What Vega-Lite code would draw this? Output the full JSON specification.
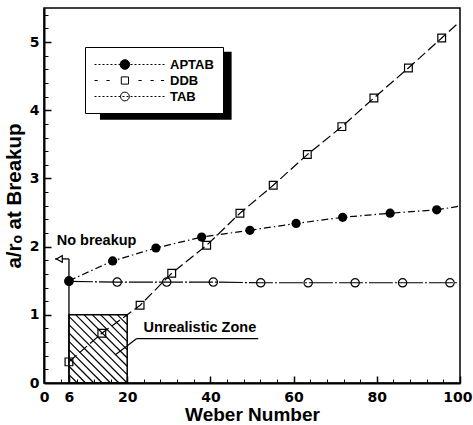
{
 "$schema": "https://vega.github.io/schema/vega-lite/v6.json",
 "width": 416, "height": 375,
 "autosize": "none",
 "padding": {"left": 44, "top": 8, "right": 13, "bottom": 42},
 "background": "white",
 "config": {"view": {"stroke": "black", "strokeWidth": 1.5}, "axis": {"grid": false}},
 "datasets": {
  "curves": [
   {"series": "TAB", "kind": "marker", "x": 6, "y": 1.49},
   {"series": "TAB", "kind": "marker", "x": 17.6, "y": 1.48},
   {"series": "TAB", "kind": "marker", "x": 29.5, "y": 1.48},
   {"series": "TAB", "kind": "marker", "x": 40.7, "y": 1.48},
   {"series": "TAB", "kind": "marker", "x": 52.1, "y": 1.47},
   {"series": "TAB", "kind": "marker", "x": 63.5, "y": 1.47},
   {"series": "TAB", "kind": "marker", "x": 74.8, "y": 1.47},
   {"series": "TAB", "kind": "marker", "x": 86.2, "y": 1.47},
   {"series": "TAB", "kind": "marker", "x": 97.6, "y": 1.47},
   {"series": "TAB", "kind": "end", "x": 99.5, "y": 1.47},
   {"series": "DDB", "kind": "marker", "x": 6, "y": 0.31},
   {"series": "DDB", "kind": "marker", "x": 13.9, "y": 0.73},
   {"series": "DDB", "kind": "marker", "x": 23.1, "y": 1.14},
   {"series": "DDB", "kind": "marker", "x": 30.7, "y": 1.61},
   {"series": "DDB", "kind": "marker", "x": 39.1, "y": 2.02},
   {"series": "DDB", "kind": "marker", "x": 47.1, "y": 2.49},
   {"series": "DDB", "kind": "marker", "x": 55.1, "y": 2.9},
   {"series": "DDB", "kind": "marker", "x": 63.3, "y": 3.35},
   {"series": "DDB", "kind": "marker", "x": 71.6, "y": 3.76},
   {"series": "DDB", "kind": "marker", "x": 79.3, "y": 4.18},
   {"series": "DDB", "kind": "marker", "x": 87.6, "y": 4.62},
   {"series": "DDB", "kind": "marker", "x": 95.6, "y": 5.06},
   {"series": "DDB", "kind": "end", "x": 99.6, "y": 5.28},
   {"series": "APTAB", "kind": "marker", "x": 6, "y": 1.5},
   {"series": "APTAB", "kind": "marker", "x": 16.5, "y": 1.79},
   {"series": "APTAB", "kind": "marker", "x": 26.9, "y": 1.98},
   {"series": "APTAB", "kind": "marker", "x": 37.9, "y": 2.14},
   {"series": "APTAB", "kind": "marker", "x": 49.5, "y": 2.24},
   {"series": "APTAB", "kind": "marker", "x": 60.6, "y": 2.34},
   {"series": "APTAB", "kind": "marker", "x": 71.8, "y": 2.43},
   {"series": "APTAB", "kind": "marker", "x": 83.2, "y": 2.49},
   {"series": "APTAB", "kind": "marker", "x": 94.4, "y": 2.54},
   {"series": "APTAB", "kind": "end", "x": 99.6, "y": 2.59}
  ],
  "hatch": [
   {"x": 6, "y": 0.122, "x2": 8, "y2": 0},
   {"x": 6, "y": 0.245, "x2": 10, "y2": 0},
   {"x": 6, "y": 0.367, "x2": 12, "y2": 0},
   {"x": 6, "y": 0.489, "x2": 14, "y2": 0},
   {"x": 6, "y": 0.611, "x2": 16, "y2": 0},
   {"x": 6, "y": 0.734, "x2": 18, "y2": 0},
   {"x": 6, "y": 0.856, "x2": 20, "y2": 0},
   {"x": 6, "y": 0.978, "x2": 20, "y2": 0.122},
   {"x": 7.64, "y": 1, "x2": 20, "y2": 0.245},
   {"x": 9.64, "y": 1, "x2": 20, "y2": 0.367},
   {"x": 11.64, "y": 1, "x2": 20, "y2": 0.489},
   {"x": 13.64, "y": 1, "x2": 20, "y2": 0.611},
   {"x": 15.64, "y": 1, "x2": 20, "y2": 0.734},
   {"x": 17.64, "y": 1, "x2": 20, "y2": 0.856},
   {"x": 19.64, "y": 1, "x2": 20, "y2": 0.978}
  ]
 },
 "resolve": {"axis": {"x": "independent", "y": "independent"}},
 "layer": [
  {
   "data": {"values": [{}]},
   "mark": {"type": "rect", "color": "black"},
   "encoding": {
    "x": {"datum": 13.45, "type": "quantitative", "axis": null},
    "x2": {"datum": 45.1},
    "y": {"datum": 3.86, "type": "quantitative", "axis": null},
    "y2": {"datum": 4.86}
   }
  },
  {
   "data": {"name": "hatch"},
   "mark": {"type": "rule", "color": "black", "strokeWidth": 1.2},
   "encoding": {
    "x": {"field": "x", "type": "quantitative",
     "axis": {"orient": "bottom", "values": [6, 20, 40, 60, 80, 100], "tickSize": -7, "tickWidth": 1.5, "tickColor": "black", "labels": false, "domain": false, "title": null, "grid": false}},
    "x2": {"field": "x2"},
    "y": {"field": "y", "type": "quantitative",
     "axis": {"orient": "left", "values": [1, 2, 3, 4, 5], "tickSize": -7, "tickWidth": 1.5, "tickColor": "black", "labels": false, "domain": false, "title": null, "grid": false}},
    "y2": {"field": "y2"}
   }
  },
  {
   "data": {"values": [{}]},
   "mark": {"type": "rect", "fillOpacity": 0, "stroke": "black", "strokeWidth": 1.5},
   "encoding": {
    "x": {"datum": 6, "type": "quantitative",
     "axis": {"orient": "bottom", "values": [4, 8, 12, 16, 24, 28, 32, 36, 44, 48, 52, 56, 64, 68, 72, 76, 84, 88, 92, 96], "tickSize": -4, "tickWidth": 1, "tickColor": "black", "labels": false, "domain": false, "title": null, "grid": false}},
    "x2": {"datum": 20},
    "y": {"datum": 0, "type": "quantitative",
     "axis": {"orient": "left", "values": [0.2, 0.4, 0.6, 0.8, 1.2, 1.4, 1.6, 1.8, 2.2, 2.4, 2.6, 2.8, 3.2, 3.4, 3.6, 3.8, 4.2, 4.4, 4.6, 4.8, 5.2, 5.4], "tickSize": -4, "tickWidth": 1, "tickColor": "black", "labels": false, "domain": false, "title": null, "grid": false}},
    "y2": {"datum": 1}
   }
  },
  {
   "data": {"values": [{}]},
   "mark": {"type": "rule", "color": "black", "strokeWidth": 1.3},
   "encoding": {
    "x": {"datum": 6, "type": "quantitative", "axis": null},
    "y": {"datum": 0, "type": "quantitative", "axis": null},
    "y2": {"datum": 1.82}
   }
  },
  {
   "data": {"values": [{}]},
   "mark": {"type": "rule", "color": "black", "strokeWidth": 1.3},
   "encoding": {
    "x": {"datum": 2.64, "type": "quantitative", "axis": null},
    "x2": {"datum": 6},
    "y": {"datum": 1.82, "type": "quantitative", "axis": null}
   }
  },
  {
   "data": {"values": [{}]},
   "mark": {"type": "point", "shape": "triangle-left", "size": 45, "filled": true, "fill": "white", "stroke": "black", "strokeWidth": 1.2, "opacity": 1},
   "encoding": {
    "x": {"datum": 3.7, "type": "quantitative", "axis": null},
    "y": {"datum": 1.82, "type": "quantitative", "axis": null}
   }
  },
  {
   "data": {"values": [{}]},
   "mark": {"type": "rule", "color": "black", "strokeWidth": 1.2},
   "encoding": {
    "x": {"datum": 22.3, "type": "quantitative", "axis": null},
    "x2": {"datum": 51.5},
    "y": {"datum": 0.652, "type": "quantitative", "axis": null}
   }
  },
  {
   "data": {"values": [{}]},
   "mark": {"type": "rule", "color": "black", "strokeWidth": 1.2},
   "encoding": {
    "x": {"datum": 22.3, "type": "quantitative", "axis": null},
    "x2": {"datum": 17.1},
    "y": {"datum": 0.652, "type": "quantitative", "axis": null},
    "y2": {"datum": 0.41}
   }
  },
  {
   "data": {"name": "curves"},
   "transform": [{"filter": "datum.series === 'APTAB'"}],
   "mark": {"type": "line", "color": "black", "strokeWidth": 1.2, "strokeDash": [7, 3, 1.5, 3]},
   "encoding": {
    "x": {"field": "x", "type": "quantitative", "scale": {"domain": [0, 100], "nice": false, "zero": false},
     "axis": {"orient": "bottom", "values": [0, 6, 20, 40, 60, 80, 100], "ticks": false, "labelPadding": 7, "labelFont": "DejaVu Sans", "labelFontSize": 14, "labelFontWeight": "bold", "labelColor": "black", "labelFlush": false, "labelOverlap": false,
      "labelAlign": {"condition": {"test": "datum.value === 100", "value": "right"}, "value": "center"},
      "labelOffset": {"condition": {"test": "datum.value === 100", "value": 12}, "value": 0},
      "domainColor": "black", "domainWidth": 2, "title": "Weber Number", "titleFont": "Liberation Sans", "titleFontSize": 19, "titleFontWeight": "bold", "titleColor": "black", "titlePadding": 1, "grid": false}},
    "y": {"field": "y", "type": "quantitative", "scale": {"domain": [0, 5.5], "nice": false},
     "axis": {"orient": "left", "values": [0, 1, 2, 3, 4, 5], "ticks": false, "labelPadding": 5, "labelFont": "DejaVu Sans", "labelFontSize": 14, "labelFontWeight": "bold", "labelColor": "black", "labelFlush": false, "labelOverlap": false, "domainColor": "black", "domainWidth": 2, "title": "a/rₒ at Breakup", "titleFont": "Liberation Sans", "titleFontSize": 20.5, "titleFontWeight": "bold", "titleColor": "black", "titlePadding": 5, "grid": false}}
   }
  },
  {
   "data": {"name": "curves"},
   "transform": [{"filter": "datum.series === 'DDB'"}],
   "mark": {"type": "line", "color": "black", "strokeWidth": 1.2, "strokeDash": [10, 4]},
   "encoding": {
    "x": {"field": "x", "type": "quantitative", "axis": null},
    "y": {"field": "y", "type": "quantitative", "axis": null}
   }
  },
  {
   "data": {"name": "curves"},
   "transform": [{"filter": "datum.series === 'TAB'"}],
   "mark": {"type": "line", "color": "black", "strokeWidth": 1.2, "strokeDash": [24, 2, 2, 2]},
   "encoding": {
    "x": {"field": "x", "type": "quantitative", "axis": null},
    "y": {"field": "y", "type": "quantitative", "axis": null}
   }
  },
  {
   "data": {"name": "curves"},
   "transform": [{"filter": "datum.series === 'TAB' && datum.kind === 'marker'"}],
   "mark": {"type": "point", "shape": "circle", "filled": false, "color": "black", "size": 70, "strokeWidth": 1.2, "opacity": 1},
   "encoding": {
    "x": {"field": "x", "type": "quantitative", "axis": null},
    "y": {"field": "y", "type": "quantitative", "axis": null}
   }
  },
  {
   "data": {"name": "curves"},
   "transform": [{"filter": "datum.series === 'DDB' && datum.kind === 'marker'"}],
   "mark": {"type": "point", "shape": "square", "filled": false, "color": "black", "size": 60, "strokeWidth": 1.2, "opacity": 1},
   "encoding": {
    "x": {"field": "x", "type": "quantitative", "axis": null},
    "y": {"field": "y", "type": "quantitative", "axis": null}
   }
  },
  {
   "data": {"name": "curves"},
   "transform": [{"filter": "datum.series === 'APTAB' && datum.kind === 'marker'"}],
   "mark": {"type": "point", "shape": "circle", "filled": true, "color": "black", "size": 85, "opacity": 1},
   "encoding": {
    "x": {"field": "x", "type": "quantitative", "axis": null},
    "y": {"field": "y", "type": "quantitative", "axis": null}
   }
  },
  {
   "data": {"name": "curves"},
   "transform": [{"filter": "false"}],
   "mark": {"type": "point", "filled": true, "stroke": "black", "strokeWidth": 1, "opacity": 1},
   "encoding": {
    "x": {"field": "x", "type": "quantitative", "axis": null},
    "y": {"field": "y", "type": "quantitative", "axis": null},
    "fill": {"field": "series", "type": "nominal", "scale": {"domain": ["APTAB", "DDB", "TAB"], "range": ["black", "white", "white"]}, "legend": {"title": null}},
    "shape": {"field": "series", "type": "nominal",
     "scale": {"domain": ["APTAB", "DDB", "TAB"], "range": [
      "M-1,0h0.25M-0.5,0h0.25M0,0h0.25M0.5,0h0.25M1,0h0.25M1.5,0h0.25M2,0h0.25M2.5,0h0.25M3,0h0.25M3.5,0h0.25M4,0h0.25M4.5,0h0.25M5,0h0.25M5.5,0h0.25M6,0h0.25M6.5,0h0.25M7,0h0.25M7.5,0h0.25M3.4,0A0.6,0.6,0,1,1,2.2,0A0.6,0.6,0,1,1,3.4,0Z",
      "M-1,0h0.4M0.5,0h0.4M4.5,0h0.4M6,0h0.4M7.3,0h0.4M2.35,-0.45H3.25V0.45H2.35Z",
      "M-1,0h0.25M-0.5,0h0.25M0,0h0.25M0.5,0h0.25M1,0h0.25M1.5,0h0.25M2,0h0.25M2.5,0h0.25M3,0h0.25M3.5,0h0.25M4,0h0.25M4.5,0h0.25M5,0h0.25M5.5,0h0.25M6,0h0.25M6.5,0h0.25M7,0h0.25M7.5,0h0.25M3.35,0A0.55,0.55,0,1,1,2.25,0A0.55,0.55,0,1,1,3.35,0Z"
     ]},
     "legend": {
      "title": null, "orient": "none", "legendX": 41, "legendY": 39,
      "fillColor": "white", "strokeColor": "black",
      "padding": 9, "rowPadding": 0, "labelOffset": 59, "symbolSize": 256, "symbolStrokeWidth": 1,
      "labelFont": "Liberation Sans", "labelFontSize": 13, "labelFontWeight": "bold", "labelColor": "black"
     }}
   }
  },
  {
   "data": {"values": [{}]},
   "mark": {"type": "text", "text": "No breakup", "align": "left", "baseline": "middle", "font": "Liberation Sans", "fontSize": 14.5, "fontWeight": "bold", "color": "black"},
   "encoding": {
    "x": {"datum": 3.05, "type": "quantitative", "axis": null},
    "y": {"datum": 2.08, "type": "quantitative", "axis": null}
   }
  },
  {
   "data": {"values": [{}]},
   "mark": {"type": "text", "text": "Unrealistic Zone", "align": "left", "baseline": "middle", "font": "Liberation Sans", "fontSize": 14.5, "fontWeight": "bold", "color": "black"},
   "encoding": {
    "x": {"datum": 23.9, "type": "quantitative", "axis": null},
    "y": {"datum": 0.8, "type": "quantitative", "axis": null}
   }
  }
 ]
}
